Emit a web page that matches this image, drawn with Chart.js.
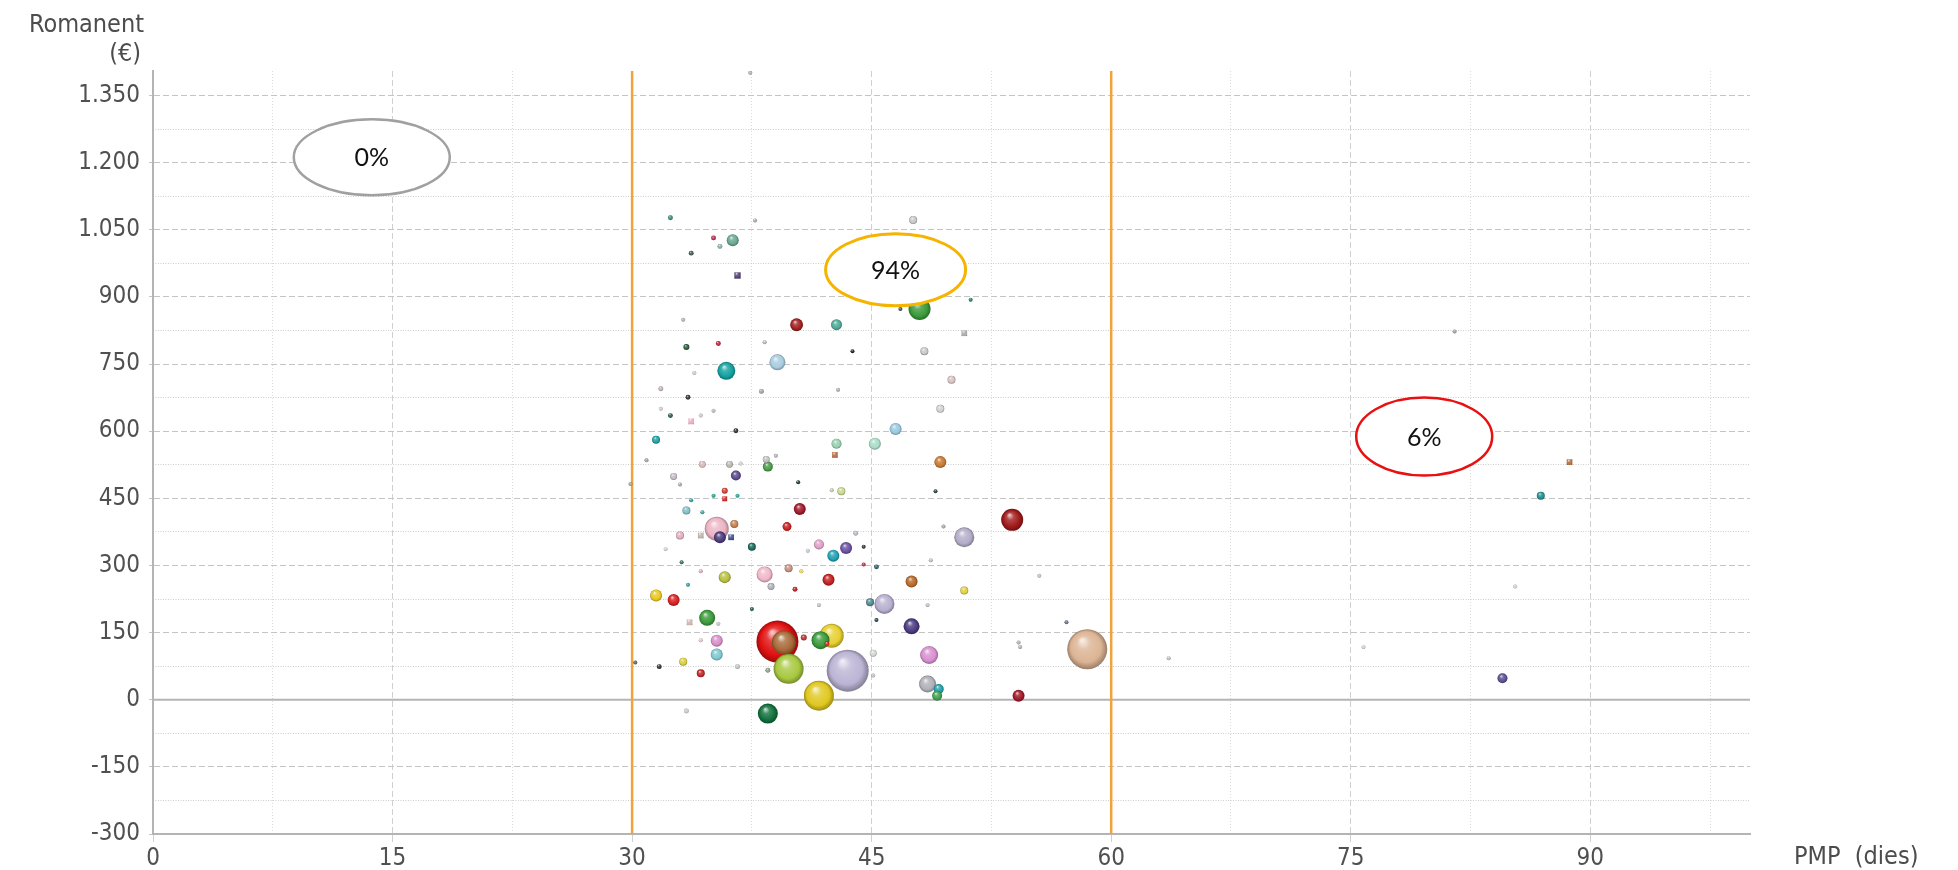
<!DOCTYPE html>
<html lang="ca">
<head>
<meta charset="utf-8">
<title>Romanent vs PMP</title>
<script src="https://cdn.jsdelivr.net/npm/chart.js@4.4.1/dist/chart.umd.min.js"></script>
<style>
    body { margin: 0; background: #fff; }
    canvas { display: block; }
</style>
</head>
<body>
<canvas id="grafic" width="1958" height="870"></canvas>
<script>
// PMP (dies) per client
const pmp = [
    32.4, 37.7, 35.1, 36.3, 35.5, 33.7, 36.6, 33.2, 33.4, 35.4,
    35.9, 38.3, 39.1, 33.9, 38.1, 31.8, 33.5, 31.8, 32.4, 33.7,
    34.3, 35.1, 36.5, 31.5, 30.9, 34.4, 36.1, 36.8, 38.5, 38.4,
    32.6, 36.5, 33.0, 35.8, 35.8, 35.1, 36.6, 33.7, 33.4, 34.4,
    35.3, 35.5, 36.2, 36.4, 34.3, 33.0, 32.1, 37.5, 33.1, 34.3,
    35.8, 38.3, 38.7, 33.5, 31.5, 32.6, 34.7, 33.6, 37.5, 35.4,
    34.3, 35.3, 35.3, 33.2, 31.7, 34.3, 36.6, 33.4, 30.2, 29.9,
    39.1, 38.5, 47.6, 48.0, 46.8, 51.2, 40.3, 42.8, 50.8, 43.8,
    48.3, 50.0, 42.9, 49.3, 46.5, 42.8, 45.2, 42.7, 49.3, 39.0,
    40.4, 49.0, 43.1, 42.5, 40.5, 39.7, 53.8, 49.5, 50.8, 41.7,
    43.4, 42.6, 44.5, 44.0, 41.0, 48.7, 44.5, 45.3, 39.8, 40.6,
    42.3, 47.5, 40.2, 50.8, 55.5, 41.7, 48.5, 44.9, 45.8, 45.3,
    47.5, 57.2, 54.2, 54.3, 58.5, 39.5, 41.8, 42.5, 42.2, 40.75,
    39.8, 43.5, 41.7, 48.6, 45.1, 45.1, 48.5, 49.2, 49.1, 54.2,
    38.5, 81.5, 88.7, 86.9, 85.3, 75.8, 84.5, 63.6, 37.4
];

// Romanent (€)
const romanent = [
    1077, 1071, 1032, 1027, 1013, 998, 948, 849, 788, 796,
    735, 799, 754, 730, 689, 695, 676, 650, 635, 622,
    635, 646, 601, 581, 535, 526, 526, 528, 521, 537,
    499, 501, 481, 467, 449, 456, 456, 446, 423, 419,
    382, 363, 363, 393, 367, 367, 337, 342, 307, 287,
    274, 280, 253, 257, 233, 223, 183, 173, 203, 170,
    133, 132, 101, 85, 74, 59, 74, -25, 83, 482,
    130, -31, 1072, 873, 873, 894, 838, 838, 819, 779,
    779, 715, 693, 650, 605, 572, 572, 547, 531, 545,
    486, 466, 466, 468, 426, 387, 402, 387, 363, 347,
    339, 322, 342, 372, 333, 312, 302, 297, 294, 287,
    268, 264, 247, 244, 277, 212, 212, 218, 214, 178,
    164, 173, 128, 118, 113, 128, 133, 143, 125, 139,
    69, 65, 9, 100, 104, 54, 35, 24, 9, 9,
    66, 823, 531, 456, 253, 118, 48, 93, 1401
];

// volum de vendes (mida de la bombolla)
const volum = [
    6, 4, 6, 36, 6, 6, 20, 4, 9, 6,
    81, 4, 64, 4, 6, 6, 6, 4, 6, 16,
    4, 4, 6, 16, 4, 12, 12, 4, 25, 12,
    12, 25, 4, 9, 12, 4, 4, 4, 16, 4,
    144, 36, 16, 16, 16, 16, 4, 16, 4, 4,
    36, 64, 12, 4, 36, 36, 64, 16, 4, 4,
    4, 36, 36, 16, 6, 16, 6, 6, 4, 4,
    441, 100, 16, 121, 4, 4, 42, 30, 16, 4,
    16, 16, 4, 16, 36, 25, 36, 16, 36, 4,
    4, 4, 16, 4, 36, 20, 121, 4, 100, 25,
    36, 36, 4, 6, 4, 4, 4, 6, 16, 4,
    36, 36, 6, 16, 4, 4, 4, 16, 100, 4,
    64, 4, 4, 4, 400, 144, 81, 144, 6, 9,
    225, 441, 225, 81, 12, 4, 72, 25, 25, 36,
    6, 4, 16, 16, 4, 4, 25, 4, 4
];

// colors de cada client
const colors = [
    '#2e8b7a', '#a8a8a8', '#b03050', '#6aa890', '#8ab0a8', '#405a5a', '#4a3a6a', '#b0b0b0', '#2a5a3a', '#c02040',
    '#13a0a0', '#b8b8b8', '#a8cce0', '#c8c8c8', '#a0a0a0', '#c0b0b0', '#303840', '#d0c8c8', '#206050', '#e8a8b8',
    '#c8c8c8', '#b8b8b8', '#303040', '#20a0a0', '#a0a0a0', '#d8b8b8', '#b8b8b0', '#d0d0d0', '#4a9a4a', '#c0c0c0',
    '#c8b8c8', '#5a4a8a', '#b0a0b0', '#d04030', '#d02020', '#30a090', '#30a090', '#30a0a0', '#80c0c8', '#40a0a0',
    '#ecb4c4', '#4a3a7a', '#3a4a8a', '#c88050', '#b8b0a8', '#e0b0c0', '#d8d0d0', '#1a6a5a', '#307050', '#e0a0c0',
    '#b8c040', '#f0b8c8', '#b0b0b8', '#30a0a0', '#e8c820', '#d82020', '#3a9a3a', '#d0b0a8', '#206040', '#c0c8c0',
    '#e0c0d0', '#d890c8', '#80c8d0', '#d8d040', '#303030', '#c02828', '#c0c0c0', '#c8c8c8', '#606060', '#a0a0a0',
    '#e01010', '#10703c', '#c8c8c8', '#3a9a3a', '#405050', '#208070', '#a02020', '#50a898', '#a8a8a8', '#202830',
    '#c8c8c8', '#d8c0c0', '#b0b0b0', '#d0d0d0', '#98c8e0', '#98d0b0', '#a8dcc8', '#b06840', '#c87830', '#b0b0b0',
    '#203838', '#304040', '#c8d890', '#c0c8a0', '#a01828', '#c82020', '#a01818', '#a0a8a8', '#b4acc8', '#e0a0c8',
    '#6a50a0', '#20a0b0', '#303840', '#b8b8c0', '#c0c8d0', '#c0c0c0', '#c03040', '#306060', '#c89080', '#e8d060',
    '#c02020', '#b86828', '#c02020', '#e0d040', '#c0c0c0', '#c0c0c0', '#c0c0c0', '#508a90', '#b8b0d0', '#204050',
    '#4a3a80', '#607080', '#b0b0b0', '#b0b0b0', '#dcb494', '#a86a38', '#3a9a3a', '#e8d030', '#e02020', '#c03030',
    '#a8c840', '#bcb4d4', '#e0c820', '#d890d0', '#d0d8d0', '#c0c0c0', '#b0b0b8', '#20a0a8', '#40a050', '#a01828',
    '#90a090', '#a0a0a0', '#b06838', '#209090', '#d0d0d0', '#d0d0d0', '#5a5090', '#c0c0c0', '#b0b0b0'
];
// clients que es dibuixen amb un quadrat
const quadrats = [6, 19, 34, 42, 44, 57, 78, 87, 142];

// marques dels eixos
const xTicks = [0, 15, 30, 45, 60, 75, 90];
const yTicks = [-300, -150, 0, 150, 300, 450, 600, 750, 900, 1050, 1200, 1350];

// llindars de PMP i percentatge de cada zona
const llindars = [30, 60];
const zonaText = ['0%', '94%', '6%'];
const zonaPmp = [13.7, 46.5, 79.6];
const zonaRomanent = [1212, 961, 588];
const zonaColor = ['#a0a0a0', '#f5b400', '#e81010'];

function shade(hex, t) {
    const n = parseInt(hex.slice(1), 16);
    const target = t > 0 ? 255 : 0, k = Math.abs(t);
    const mix = c => Math.round(c + (target - c) * k);
    return `rgb(${mix(n >> 16)},${mix((n >> 8) & 255)},${mix(n & 255)})`;
}

function milers(v) {
    const a = Math.abs(v);
    const s = a >= 1000 ? Math.floor(a / 1000) + '.' + String(a % 1000).padStart(3, '0') : String(a);
    return (v < 0 ? '-' : '') + s;
}

const FONT = '"DejaVu Sans Condensed", "DejaVu Sans", sans-serif';

const decor = {
    id: 'decor',
    beforeDatasetsDraw(chart) {
        const { ctx, chartArea: a, scales: { x, y } } = chart;
        ctx.save();
        const y0 = y.getPixelForValue(0);
        ctx.strokeStyle = '#b4b4b4';
        ctx.lineWidth = 2;
        ctx.beginPath();
        ctx.moveTo(a.left, y0);
        ctx.lineTo(a.right, y0);
        ctx.stroke();
        ctx.strokeStyle = '#f0a33c';
        ctx.lineWidth = 2.5;
        llindars.forEach(v => {
            const px = x.getPixelForValue(v);
            ctx.beginPath();
            ctx.moveTo(px, a.top);
            ctx.lineTo(px, a.bottom);
            ctx.stroke();
        });
        ctx.restore();
    },
    afterDatasetsDraw(chart) {
        const { ctx, scales: { x, y } } = chart;
        const radis = [[78, 38], [70, 36], [68, 39]];
        ctx.save();
        zonaText.forEach((t, i) => {
            const cx = x.getPixelForValue(zonaPmp[i]);
            const cy = y.getPixelForValue(zonaRomanent[i]);
            ctx.beginPath();
            ctx.ellipse(cx, cy, radis[i][0], radis[i][1], 0, 0, Math.PI * 2);
            ctx.fillStyle = '#fff';
            ctx.fill();
            ctx.lineWidth = i === 1 ? 3 : 2.5;
            ctx.strokeStyle = zonaColor[i];
            ctx.stroke();
            ctx.fillStyle = '#111';
            ctx.font = '25px Lato';
            ctx.textAlign = 'center';
            ctx.textBaseline = 'middle';
            ctx.fillText(t, cx, cy + 1);
        });
        ctx.restore();
    },
    afterDraw(chart) {
        const { ctx, chartArea: a } = chart;
        ctx.save();
        ctx.fillStyle = '#4c4c4c';
        ctx.font = '25px ' + FONT;
        ctx.textAlign = 'right';
        ctx.textBaseline = 'alphabetic';
        ctx.fillText('Romanent', a.left - 9, 32);
        ctx.fillText('(€)', a.left - 12, 61);
        ctx.textAlign = 'left';
        ctx.fillText('PMP  (dies)', a.right + 44, 864);
        ctx.restore();
    }
};

document.addEventListener("DOMContentLoaded", () => {
    Chart.defaults.font.family = FONT;

    const punts = pmp.map((x, i) => ({
        x: x, y: romanent[i], v: volum[i], c: colors[i], sq: quadrats.includes(i)
    })).sort((a, b) => b.v - a.v);

    const tickFont = { family: FONT, size: 24 };
    const xMinorTicks = xTicks.map(v => v + 7.5);
    const yMinorTicks = yTicks.map(v => v + 75);

    new Chart(document.getElementById("grafic"), {
        type: "bubble",
        data: {
            datasets: [{
                data: punts,
                borderWidth: 0,
                radius: ctx => ctx.raw ? Math.sqrt(ctx.raw.v) : 3,
                pointStyle: ctx => ctx.raw && ctx.raw.sq ? 'rect' : 'circle',
                backgroundColor: ctx => {
                    const p = ctx.raw;
                    if (!p || ctx.type !== 'data') return '#999';
                    const chart = ctx.chart;
                    const px = chart.scales.x.getPixelForValue(p.x);
                    const py = chart.scales.y.getPixelForValue(p.y);
                    if (!isFinite(px) || !isFinite(py)) return p.c;
                    const r = Math.sqrt(p.v);
                    const g = chart.ctx.createRadialGradient(px - r * 0.25, py - r * 0.45, r * 0.05, px, py, r);
                    g.addColorStop(0, shade(p.c, 0.75));
                    g.addColorStop(0.3, shade(p.c, 0.2));
                    g.addColorStop(0.75, p.c);
                    g.addColorStop(1, shade(p.c, -0.3));
                    return g;
                }
            }]
        },
        options: {
            responsive: false,
            devicePixelRatio: 1,
            animation: false,
            events: [],
            layout: { padding: { top: 71, right: 208, bottom: 0, left: 0 } },
            plugins: { legend: { display: false }, tooltip: { enabled: false } },
            scales: {
                x: {
                    type: "linear", position: "bottom", min: 0, max: 100,
                    ticks: { color: '#505050', font: tickFont, maxRotation: 0, padding: 2 },
                    afterBuildTicks: s => { s.ticks = xTicks.map(v => ({ value: v })); },
                    afterFit: s => { s.height = 36; },
                    grid: { color: '#d0d0d0', lineWidth: 1, tickLength: 8 },
                    border: { color: '#b4b4b4', width: 2, dash: [6, 3] }
                },
                xMinor: {
                    type: "linear", axis: 'x', position: "bottom", min: 0, max: 100,
                    ticks: { display: false },
                    afterBuildTicks: s => { s.ticks = xMinorTicks.map(v => ({ value: v })); },
                    afterFit: s => { s.height = 0; },
                    grid: { color: '#dcdcdc', drawTicks: false },
                    border: { display: false, dash: [1, 2] }
                },
                y: {
                    type: "linear", position: "left", min: -300, max: 1405,
                    ticks: { color: '#505050', font: tickFont, padding: 9, callback: v => milers(v) },
                    afterBuildTicks: s => { s.ticks = yTicks.map(v => ({ value: v })); },
                    afterFit: s => { s.width = 153; },
                    grid: { color: '#c4c4c4', lineWidth: 1, tickLength: 4 },
                    border: { color: '#b4b4b4', width: 2, dash: [6, 3] }
                },
                yMinor: {
                    type: "linear", axis: 'y', position: "left", min: -300, max: 1405,
                    ticks: { display: false },
                    afterBuildTicks: s => { s.ticks = yMinorTicks.filter(v => v < 1405).map(v => ({ value: v })); },
                    afterFit: s => { s.width = 0; },
                    grid: { color: '#cdcdcd', drawTicks: false },
                    border: { display: false, dash: [1, 1.5] }
                }
            }
        },
        plugins: [decor]
    });
});
</script>
</body>
</html>
